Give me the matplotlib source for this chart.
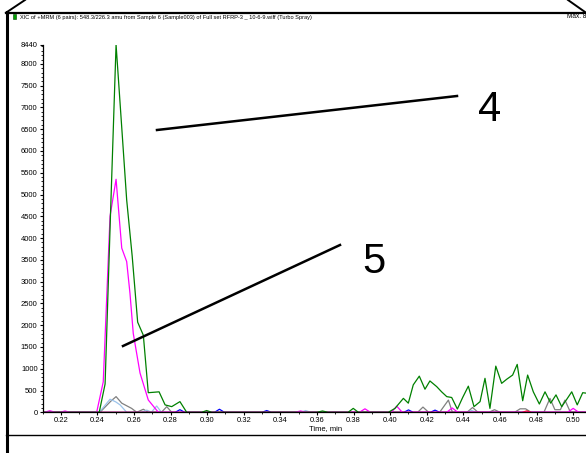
import matplotlib
matplotlib.use("Agg")
import matplotlib.pyplot as plt
from matplotlib import font_manager
from matplotlib.lines import Line2D
from matplotlib.patches import Rectangle
from matplotlib.ticker import MultipleLocator

# --- data (time in min, intensity in cps) ---
t_green = [0.209, 0.2380, 0.2410, 0.2442, 0.2472, 0.2502, 0.2533, 0.2560, 0.2590,
           0.2620, 0.2651, 0.2678, 0.2708, 0.2737, 0.2770, 0.2806, 0.2851, 0.2888,
           0.2970, 0.2997, 0.3025, 0.3600, 0.3630, 0.3660, 0.3770, 0.3798, 0.3826,
           0.3990, 0.4026, 0.4072, 0.4099, 0.4126, 0.4159, 0.4190, 0.4217, 0.4254,
           0.4281, 0.4309, 0.4336, 0.4367, 0.4396, 0.4427, 0.4458, 0.4491, 0.4518,
           0.4545, 0.4577, 0.4609, 0.4637, 0.4669, 0.4694, 0.4724, 0.4751, 0.4782,
           0.4815, 0.4846, 0.4877, 0.4906, 0.4937, 0.4965, 0.4992, 0.5022, 0.5052,
           0.5070]
v_green = [0, 0, 0, 650, 4600, 8440, 6540, 4875, 3590,
           2070, 1770, 450, 460, 470, 170, 130, 245, 0,
           0, 40, 0, 0, 30, 0, 0, 90, 0,
           0, 90, 320, 210, 630, 830, 530, 720, 590,
           470, 360, 340, 75, 340, 600, 130, 245, 780,
           90, 1060, 665, 760, 855, 1100, 265, 855, 470,
           190, 470, 210, 400, 130, 300, 470, 170, 450,
           440]

t_magenta = [0.209, 0.2110, 0.2140, 0.2170, 0.2195, 0.2223, 0.2250, 0.2396, 0.2432,
             0.2469, 0.2502, 0.2533, 0.2560, 0.2578, 0.2596, 0.2633, 0.2678, 0.2733,
             0.3480, 0.3510, 0.3540, 0.3832, 0.3862, 0.3892, 0.4006, 0.4036, 0.4066,
             0.4309, 0.4339, 0.4369, 0.4970, 0.5000, 0.5030, 0.5070]
v_magenta = [0, 0, 35, 0, 0, 30, 0, 0, 700,
             4500, 5350, 3770, 3460, 2730, 1810, 900, 283, 0,
             0, 30, 0, 0, 80, 0, 0, 140, 0,
             0, 100, 0, 0, 90, 0, 0]

t_gray = [0.209, 0.2414, 0.2472, 0.2502, 0.2533, 0.2587, 0.2615, 0.2651, 0.2678,
          0.2750, 0.2779, 0.2806, 0.4150, 0.4179, 0.4210, 0.4270, 0.4318, 0.4340,
          0.4420, 0.4450, 0.4480, 0.4540, 0.4570, 0.4600, 0.4680, 0.4710, 0.4740,
          0.4770, 0.4840, 0.4873, 0.4900, 0.4930, 0.4955, 0.4985, 0.5070]
v_gray = [0, 0, 250, 360, 210, 90, 0, 70, 0,
          0, 130, 0, 0, 120, 0, 0, 280, 0,
          0, 110, 0, 0, 60, 0, 0, 80, 80,
          0, 0, 320, 60, 60, 280, 0, 0]

t_lightblue = [0.209, 0.2410, 0.2469, 0.2500, 0.2524, 0.2560, 0.2640, 0.2670, 0.2695,
               0.2724, 0.2750, 0.3510, 0.3538, 0.3566, 0.4420, 0.4445, 0.4470, 0.5070]
v_lightblue = [0, 0, 300, 240, 170, 0, 0, 50, 0,
               145, 0, 0, 40, 0, 0, 40, 0, 0]

t_blue = [0.209, 0.2825, 0.2851, 0.2877, 0.3040, 0.3067, 0.3094, 0.3300, 0.3325,
          0.3350, 0.4075, 0.4100, 0.4125, 0.4220, 0.4245, 0.4270, 0.5070]
v_blue = [0, 0, 60, 0, 0, 70, 0, 0, 40,
          0, 0, 55, 0, 0, 50, 0, 0]

t_red = [0.209, 0.4720, 0.4746, 0.4772, 0.5070]
v_red = [0, 0, 30, 0, 0]

y_ticks = [0, 500, 1000, 1500, 2000, 2500, 3000, 3500, 4000, 4500, 5000,
           5500, 6000, 6500, 7000, 7500, 8000, 8440]
x_ticks = [0.22, 0.24, 0.26, 0.28, 0.30, 0.32, 0.34, 0.36, 0.38, 0.40,
           0.42, 0.44, 0.46, 0.48, 0.50]

title = ("XIC of +MRM (6 pairs): 548.3/226.3 amu from Sample 6 (Sample003) "
         "of Full set RFRP-3 _ 10-6-9.wiff (Turbo Spray)")
max_text = "Max. 8"   # the rest runs off the page in the original

W, H = 586, 453
names = {f.name for f in font_manager.fontManager.ttflist}
narrow = "Liberation Sans Narrow" if "Liberation Sans Narrow" in names else "Liberation Sans"
plt.rcParams["font.family"] = [narrow, "DejaVu Sans"]


def fx(px):
    return px / W


def fy(py):
    return 1 - py / H


def main():
    fig = plt.figure(figsize=(W / 100, H / 100), dpi=100)
    ax = fig.add_axes([fx(42.5), fy(412.3), 1 - fx(42.5), fy(44.7) - fy(412.3)])

    ax.plot(t_gray, v_gray, color="#808080", lw=0.9)
    ax.plot(t_lightblue, v_lightblue, color="#9cc3ea", lw=0.9)
    ax.plot(t_blue, v_blue, color="#0000ff", lw=0.9)
    ax.plot(t_red, v_red, color="#ff0000", lw=0.9)
    ax.plot(t_magenta, v_magenta, color="#ff00ff", lw=0.9)
    ax.plot(t_green, v_green, color="#008000", lw=0.9)

    ax.set_xlim(0.21, 0.21 + (W - 42.5) / 1830)
    ax.set_ylim(0, 8440)
    ax.set_yticks(y_ticks)
    ax.set_yticklabels([str(v) for v in y_ticks])
    ax.set_xticks(x_ticks)
    ax.set_xticklabels(["%.2f" % v for v in x_ticks])
    ax.yaxis.set_minor_locator(MultipleLocator(100))
    ax.xaxis.set_minor_locator(MultipleLocator(0.01))
    ax.tick_params(axis="both", which="major", labelsize=5.5, length=2.5,
                   width=0.8, pad=1)
    ax.tick_params(axis="both", which="minor", length=1.2, width=0.6)
    for s in ("top", "right"):
        ax.spines[s].set_visible(False)
    for s in ("left", "bottom"):
        ax.spines[s].set_linewidth(0.9)
    ax.set_xlabel("Time, min", fontsize=5.5, labelpad=0)
    ax.xaxis.set_label_coords((326 - 42.5) / (W - 42.5), -0.035)

    # header text
    fig.text(fx(20), fy(17), title, fontsize=4.1, va="center", ha="left")
    fig.text(fx(567), fy(17), max_text, fontsize=4.7, va="center", ha="left")
    fig.add_artist(Rectangle((fx(12.7), fy(19.3)), fx(2.8), fy(13.7) - fy(19.3),
                             transform=fig.transFigure, facecolor="#00a000",
                             edgecolor="#004000", lw=0.4))

    # page frame
    frame = [((6, 586), (12.7, 12.7), 1.6),
             ((6.5, 6.5), (12, 453), 2.2),
             ((6, 25), (12.7, 0), 1.4),
             ((568, 586), (0, 12.7), 1.4),
             ((6, 586), (435, 435), 1.0)]
    for xs, ys, lw in frame:
        fig.add_artist(Line2D([fx(x) for x in xs], [fy(y) for y in ys],
                              transform=fig.transFigure, color="black", lw=lw))

    # compound labels
    fig.add_artist(Line2D([fx(157), fx(457)], [fy(130), fy(96)],
                          transform=fig.transFigure, color="black", lw=1.8))
    fig.add_artist(Line2D([fx(123), fx(340)], [fy(346), fy(245)],
                          transform=fig.transFigure, color="black", lw=1.8))
    fig.text(fx(490), fy(110), "4", fontsize=30, ha="center", va="center",
             family="Liberation Sans")
    fig.text(fx(374), fy(262), "5", fontsize=30, ha="center", va="center",
             family="Liberation Sans")

    fig.savefig("out.png", dpi=100)


if __name__ == "__main__":
    main()
